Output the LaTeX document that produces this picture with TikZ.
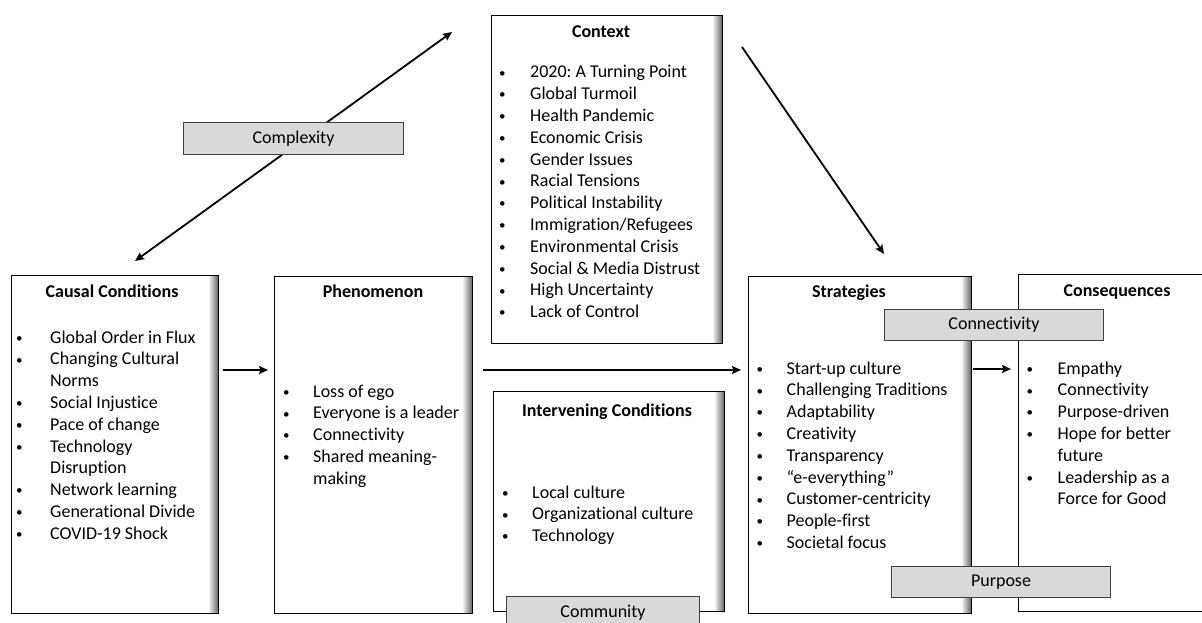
\documentclass[tikz,border=0pt]{standalone}
\usepackage{fontspec}
\setmainfont[Ligatures={NoCommon}]{Carlito}
\usetikzlibrary{arrows.meta}
\frenchspacing
\newcommand\blist[2]{\begin{tabular}[t]{@{}p{#1}@{}l@{}}#2\end{tabular}}
\newcommand\bu{\hspace{0.5pt}\raisebox{0.8pt}{\scalebox{0.72}{\textbullet}}}
\begin{document}
\begin{tikzpicture}[x=1pt,y=-1pt,
  every node/.style={font=\fontsize{18}{21.8}\selectfont},
  box/.style={draw=black,line width=1.3pt,fill=white,anchor=north west,inner sep=0pt,
    path picture={\foreach \i in {1,...,10}{\pgfmathtruncatemacro\gv{\i*6}
      \fill[black!\gv] ([xshift=\i pt-11pt]path picture bounding box.north east)
        rectangle ([xshift=\i pt-9.6pt]path picture bounding box.south east);}}},
  lbl/.style={draw=black!75,line width=1pt,fill=black!15,anchor=north west,inner sep=0pt},
  ttl/.style={anchor=base,inner sep=0pt,font=\fontsize{18}{21.8}\selectfont\bfseries},
  lst/.style={anchor=base west,inner sep=0pt},
  lbltext/.style={inner sep=0pt},
  arr/.style={line width=1.8pt,-{Stealth[length=9pt,width=8pt,inset=1.5pt]}},
  darr/.style={line width=1.8pt,{Stealth[length=9pt,width=8pt,inset=1.5pt]}-{Stealth[length=9pt,width=8pt,inset=1.5pt]}}]
\clip (0,0) rectangle (1202,623);
\fill[white] (0,0) rectangle (1202,623);

% free ends
\coordinate (cxa) at (135,261);
\coordinate (cxb) at (452,32);
\coordinate (csa) at (742,47);
\coordinate (csb) at (884,254);
\draw[darr] (cxa) -- (cxb);
\draw[arr] (csa) -- (csb);

% boxes
\node[box,minimum width=207pt,minimum height=338pt] (cc) at (11,275) {};
\node[box,minimum width=198pt,minimum height=337pt] (ph) at (274,276) {};
\node[box,minimum width=231pt,minimum height=328pt] (ctx) at (491,15) {};
\node[box,minimum width=231pt,minimum height=220pt] (iv) at (493,391) {};
\node[box,minimum width=223pt,minimum height=337pt] (st) at (748,276) {};
\node[box,minimum width=230pt,minimum height=337pt] (cq) at (1018,274) {};

% titles
\node[ttl] (cct) at (112,297) {Causal Conditions};
\node[ttl] (pht) at (373,297) {Phenomenon};
\node[ttl] (ctxt) at (601,38) {Context};
\node[ttl] (ivt) at (607,416) {Intervening Conditions};
\node[ttl] (stt) at (849,297) {Strategies};
\node[ttl] (cqt) at (1117,296) {Consequences};

% lists
\node[lst] (ccl) at (15.5,343) {\blist{34.5pt}{\bu & Global Order in Flux\\ \bu & Changing Cultural\\ & Norms\\ \bu & Social Injustice\\ \bu & Pace of change\\ \bu & Technology\\ & Disruption\\ \bu & Network learning\\ \bu & Generational Divide\\ \bu & COVID-19 Shock}};
\node[lst] (phl) at (282.5,397) {\blist{30.5pt}{\bu & Loss of ego\\ \bu & Everyone is a leader\\ \bu & Connectivity\\ \bu & Shared meaning-\\ & making}};
\node[lst] (ctxl) at (498.5,78) {\blist{31.5pt}{\bu & 2020: A Turning Point\\ \bu & Global Turmoil\\ \bu & Health Pandemic\\ \bu & Economic Crisis\\ \bu & Gender Issues\\ \bu & Racial Tensions\\ \bu & Political Instability\\ \bu & Immigration/Refugees\\ \bu & Environmental Crisis\\ \bu & Social \& Media Distrust\\ \bu & High Uncertainty\\ \bu & Lack of Control}};
\node[lst] (ivl) at (501.5,498) {\blist{30.5pt}{\bu & Local culture\\ \bu & Organizational culture\\ \bu & Technology}};
\node[lst] (stl) at (756,374) {\blist{30.5pt}{\bu & Start-up culture\\ \bu & Challenging Traditions\\ \bu & Adaptability\\ \bu & Creativity\\ \bu & Transparency\\ \bu & “e-everything”\\ \bu & Customer-centricity\\ \bu & People-first\\ \bu & Societal focus}};
\node[lst] (cql) at (1026,374) {\blist{31.5pt}{\bu & Empathy\\ \bu & Connectivity\\ \bu & Purpose-driven\\ \bu & Hope for better\\ & future\\ \bu & Leadership as a\\ & Force for Good}};

% grey labels
\node[lbl,minimum width=220pt,minimum height=32pt] (cx) at (183,122) {};
\node[lbltext] at (cx.center) {Complexity};
\node[lbl,minimum width=219pt,minimum height=31pt] (cn) at (884,309) {};
\node[lbltext] at (cn.center) {Connectivity};
\node[lbl,minimum width=219pt,minimum height=31pt] (pu) at (891,566) {};
\node[lbltext] at (pu.center) {Purpose};
\node[lbl,minimum width=193pt,minimum height=31pt] (cm) at (506,596) {};
\node[lbltext] at ([yshift=-0.5pt]cm.center) {Community};

% connectors
\draw[arr] ([xshift=4pt,yshift=-95pt]cc.north east) -- ([xshift=-6pt,yshift=-94pt]ph.north west);
\draw[arr] ([xshift=10pt,yshift=-94pt]ph.north east) -- ([xshift=-7pt,yshift=-94pt]st.north west);
\draw[arr] ([xshift=1pt,yshift=-93pt]st.north east) -- ([xshift=-7pt,yshift=-95pt]cq.north west);
\end{tikzpicture}
\end{document}
